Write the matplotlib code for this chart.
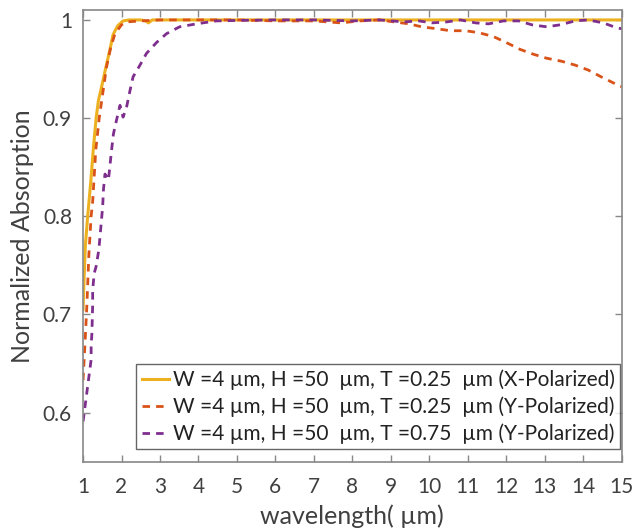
import numpy as np
import matplotlib
matplotlib.use('Agg')
import matplotlib.pyplot as plt

plt.rcParams['font.family'] = ['Lato', 'DejaVu Sans']

wl_x_025 = [1.0, 1.03, 1.06, 1.12, 1.2, 1.27, 1.34, 1.40, 1.5, 1.6, 1.7, 1.78, 1.9,
            2.04, 2.2, 2.5, 2.62, 2.7, 2.8, 3.2, 5.0, 8.0, 11.0, 15.0]
ab_x_025 = [0.705, 0.74, 0.77, 0.80, 0.835, 0.87, 0.90, 0.918, 0.935, 0.953, 0.97, 0.985, 0.994,
            0.999, 1.0, 1.0, 0.999, 0.997, 1.0, 1.0, 1.0, 1.0, 1.0, 1.0]

wl_y_025 = [1.0, 1.05, 1.1, 1.15, 1.21, 1.25, 1.33, 1.42, 1.5, 1.61, 1.72, 1.83, 2.0,
            2.13, 2.5, 3.0, 4.0, 5.0, 6.0, 7.0, 7.7, 8.2, 8.7, 9.47, 9.8, 10.2,
            10.55, 10.94, 11.29, 11.67, 12.0, 12.36, 12.71, 13.05, 13.43, 13.79,
            14.13, 14.47, 14.83, 15.0]
ab_y_025 = [0.633, 0.67, 0.71, 0.76, 0.80, 0.815, 0.867, 0.90, 0.922, 0.952, 0.972, 0.986, 0.995,
            0.998, 0.999, 1.0, 1.0, 1.0, 0.999, 0.999, 0.997, 0.999, 1.0, 0.996, 0.993, 0.991,
            0.989, 0.989, 0.987, 0.983, 0.977, 0.970, 0.965, 0.961, 0.958, 0.954,
            0.949, 0.942, 0.935, 0.932]

wl_y_075 = [1.0, 1.05, 1.14, 1.21, 1.21, 1.23, 1.25, 1.25, 1.29, 1.34, 1.41, 1.44, 1.51,
            1.53, 1.57, 1.66, 1.74, 1.79, 1.87, 1.96, 2.04, 2.13, 2.22, 2.30, 2.48,
            2.65, 2.91, 3.17, 3.51, 3.95, 4.46, 5.07, 6.0, 7.0, 8.0, 8.7, 9.34,
            9.73, 10.07, 10.46, 10.81, 11.2, 11.54, 11.93, 12.32, 12.67, 13.05,
            13.4, 13.79, 14.13, 14.52, 14.87, 15.0]
ab_y_075 = [0.591, 0.606, 0.633, 0.654, 0.667, 0.681, 0.71, 0.725, 0.742, 0.749, 0.766, 0.779, 0.81,
            0.827, 0.843, 0.837, 0.867, 0.884, 0.898, 0.913, 0.901, 0.911, 0.928, 0.942, 0.954,
            0.966, 0.977, 0.986, 0.993, 0.996, 0.999, 0.9995, 1.0, 1.0, 0.999, 1.0, 0.998,
            0.999, 0.997, 0.998, 1.0, 0.997, 0.996, 0.999, 0.999, 0.995, 0.993,
            0.995, 0.999, 1.0, 0.997, 0.992, 0.991]

labels = ['W =4 \u00b5m, H =50  \u00b5m, T =0.25  \u00b5m (X-Polarized)',
          'W =4 \u00b5m, H =50  \u00b5m, T =0.25  \u00b5m (Y-Polarized)',
          'W =4 \u00b5m, H =50  \u00b5m, T =0.75  \u00b5m (Y-Polarized)']

txt = '#404040'
grey = '#888888'

fig = plt.figure(figsize=(6.34, 5.32), dpi=100)
ax = fig.add_axes([0.131, 0.132, 0.8495, 0.849])

ax.plot(wl_x_025, ab_x_025, color='#EDB120', lw=2.2, label=labels[0])
ax.plot(wl_y_025, ab_y_025, color='#D95319', lw=2.0, ls='--', dashes=(2.7, 2.2), label=labels[1])
ax.plot(wl_y_075, ab_y_075, color='#7E2F8E', lw=2.0, ls='--', dashes=(2.7, 2.2), label=labels[2])

ax.set_xlim(1, 15)
ax.set_ylim(0.55, 1.01)
ax.set_xticks(np.arange(1, 16))
ax.set_yticks([0.6, 0.7, 0.8, 0.9, 1.0])
ax.set_yticklabels(['0.6', '0.7', '0.8', '0.9', '1'])

ax.tick_params(direction='in', top=True, right=True, length=5, width=1,
               color=grey, labelcolor=txt, labelsize=15)
ax.tick_params(axis='x', pad=11)
ax.tick_params(axis='y', pad=8)
for s in ax.spines.values():
    s.set_color(grey)
    s.set_linewidth(1.2)

ax.set_xlabel('wavelength( \u00b5m)', fontsize=18, color=txt, labelpad=5)
ax.set_ylabel('Normalized Absorption', fontsize=18, color=txt, labelpad=6)

leg = ax.legend(loc='lower right', bbox_to_anchor=(0.997, 0.028), fontsize=15,
                frameon=True, fancybox=False, handlelength=1.3, handletextpad=0.2,
                borderpad=0.25, labelspacing=0.3, borderaxespad=0.0)
leg.get_frame().set_edgecolor(txt)
leg.get_frame().set_linewidth(1.0)
for t in leg.get_texts():
    t.set_color('#222222')

fig.savefig('out.png', dpi=100)
